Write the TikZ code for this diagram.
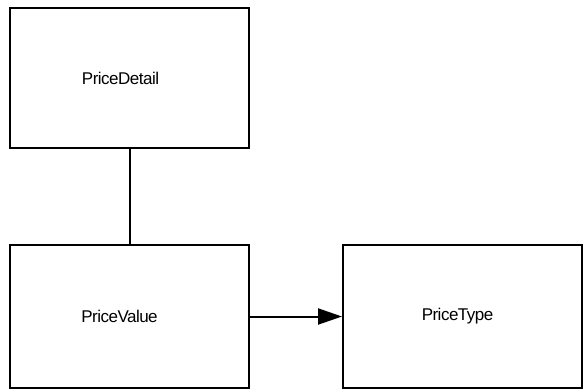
\documentclass[tikz,border=0pt]{standalone}
\usepackage{fontspec}
\setmainfont{Liberation Sans}[LetterSpace=-3]
\usetikzlibrary{arrows.meta}
\begin{document}
\begin{tikzpicture}[x=1pt,y=-1pt,
  entity/.style={draw=black,line width=2pt,minimum width=239pt,inner sep=0pt},
  lbl/.style={font=\fontsize{17}{20}\selectfont},
  conn/.style={draw=black,line width=2pt}]
\useasboundingbox (0,0) rectangle (584,389);
\node[entity,minimum height=140pt,label={[lbl,xshift=-9pt]center:PriceDetail}] (detail) at (129.5,78) {};
\node[entity,minimum height=143pt,label={[lbl,xshift=-10pt]center:PriceValue}] (value) at (129.5,316.5) {};
\node[entity,minimum height=143pt,label={[lbl,xshift=-5pt]center:PriceType}] (type) at (462.5,316.5) {};
\draw[conn] (detail.south) -- (value.north);
\draw[conn,-{Triangle[length=24pt,width=16pt]}] (value.east) -- (type.west);
\end{tikzpicture}
\end{document}
